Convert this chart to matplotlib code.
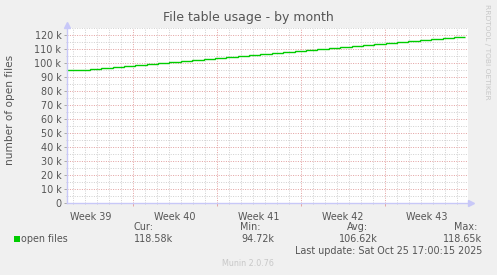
import numpy as np
import matplotlib
matplotlib.use('Agg')
import matplotlib.pyplot as plt

# daily samples of open files (thousands)
open_files = [94.7, 95.3, 96.0, 96.6, 97.3, 98.0, 98.7, 99.4, 100.1, 100.8, 101.5,
              102.2, 102.9, 103.6, 104.3, 105.0, 105.7, 106.4, 107.1, 107.8, 108.5,
              109.2, 109.9, 110.6, 111.3, 112.0, 112.8, 113.5, 114.2, 114.9, 115.6,
              116.3, 117.0, 117.8, 118.6]
week_labels = ['Week 39', 'Week 40', 'Week 41', 'Week 42', 'Week 43']
week_starts = [-1.5, 5.5, 12.5, 19.5, 26.5]   # days from left edge of graph
y_ticks = [0, 10, 20, 30, 40, 50, 60, 70, 80, 90, 100, 110, 120]
legend_heads = ['Cur:', 'Min:', 'Avg:', 'Max:']
legend_vals = ['118.58k', '94.72k', '106.62k', '118.65k']

span_days = 33.42
data_end = 33.2

W, H = 497, 275
bg = '#f0f0f0'
txt = '#555555'
axis_col = '#c8c8f8'
grid_minor = '#d2d2d2'
grid_major = '#e4a4a4'

fig = plt.figure(figsize=(W / 100, H / 100), dpi=100, facecolor=bg)
ax = fig.add_axes([67 / W, 72 / H, 401 / W, 175 / H], facecolor='white')

ax.set_xlim(0, span_days)
ax.set_ylim(0, 125000)

# grid
ax.set_yticks([v * 1000 for v in y_ticks])
ax.set_yticks(np.arange(5000, 125001, 10000), minor=True)
ax.set_yticklabels(['0' if v == 0 else f'{v} k' for v in y_ticks])
ax.set_xticks(week_starts[1:])
ax.set_xticks(np.arange(0.5, span_days, 1.0), minor=True)
ax.set_xticklabels([])

dots = (0, (1, 1.4))
ax.grid(True, which='minor', color=grid_minor, linestyle=dots, linewidth=0.72, zorder=0)
ax.grid(True, which='major', color=grid_major, linestyle=dots, linewidth=0.72, zorder=0)
ax.set_axisbelow(True)

ax.tick_params(axis='y', which='major', length=2, width=0.7, color='#aaaaaa',
               labelsize=6.9, labelcolor=txt, pad=2)
ax.tick_params(axis='y', which='minor', length=1, width=0.7, color='#cccccc')
ax.tick_params(axis='x', which='major', length=2, width=0.7, color=grid_major)
ax.tick_params(axis='x', which='minor', length=1, width=0.7, color='#cccccc')

for s in ax.spines.values():
    s.set_visible(False)

# week labels centred in each week
for lab, ws in zip(week_labels, week_starts):
    ax.text(ws + 3.5, -0.05, lab, transform=ax.get_xaxis_transform(),
            ha='center', va='top', fontsize=6.9, color=txt)

# data line
edges = np.linspace(0, data_end, len(open_files) + 1)
ax.stairs(np.array(open_files) * 1000, edges, baseline=None,
          color='#00cc00', linewidth=1.0, zorder=3)

# axes with arrows
ax.plot([0, 0], [0, 1.0], transform=ax.transAxes, color=axis_col, lw=1, clip_on=False, zorder=4)
ax.plot([0, 1.0], [0, 0], transform=ax.transAxes, color=axis_col, lw=1, clip_on=False, zorder=4)
ax.plot([0], [1.0 + 3 / 175], transform=ax.transAxes, marker='^', ms=5, color=axis_col,
        mec=axis_col, clip_on=False, zorder=4)
ax.plot([1.0 + 3 / 401], [0], transform=ax.transAxes, marker='>', ms=5, color=axis_col,
        mec=axis_col, clip_on=False, zorder=4)

# texts
fig.text(248.5 / W, 1 - 18 / H, 'File table usage - by month', ha='center', va='center',
         fontsize=9, color=txt)
fig.text(10.5 / W, 1 - 110 / H, 'number of open files', ha='center', va='center',
         rotation=90, fontsize=7.6, color=txt)
fig.text(486.5 / W, 1 - 52 / H, 'RRDTOOL / TOBI OETIKER', ha='center', va='center',
         rotation=270, fontsize=5.4, color='#c8c8c8')

# legend
fig.patches.append(plt.Rectangle((14 / W, 1 - 242 / H), 6 / W, 6 / H, transform=fig.transFigure,
                                 facecolor='#00cc00', edgecolor='none'))
fig.text(21 / W, 1 - 239.5 / H, 'open files', ha='left', va='center', fontsize=6.9, color=txt)
head_x = [133, 240, 347, 477]
head_ha = ['left', 'left', 'left', 'right']
val_right = [173, 274, 378, 482]
for h, hx, ha, v, vx in zip(legend_heads, head_x, head_ha, legend_vals, val_right):
    fig.text(hx / W, 1 - 227.5 / H, h, ha=ha, va='center', fontsize=6.9, color=txt)
    fig.text(vx / W, 1 - 239.5 / H, v, ha='right', va='center', fontsize=6.9, color=txt)
fig.text(482 / W, 1 - 251.5 / H, 'Last update: Sat Oct 25 17:00:15 2025', ha='right',
         va='center', fontsize=6.9, color=txt)
fig.text(248 / W, 1 - 264 / H, 'Munin 2.0.76', ha='center', va='center', fontsize=5.8,
         color='#c8c8c8')

fig.savefig('out.png', dpi=100, facecolor=bg)
